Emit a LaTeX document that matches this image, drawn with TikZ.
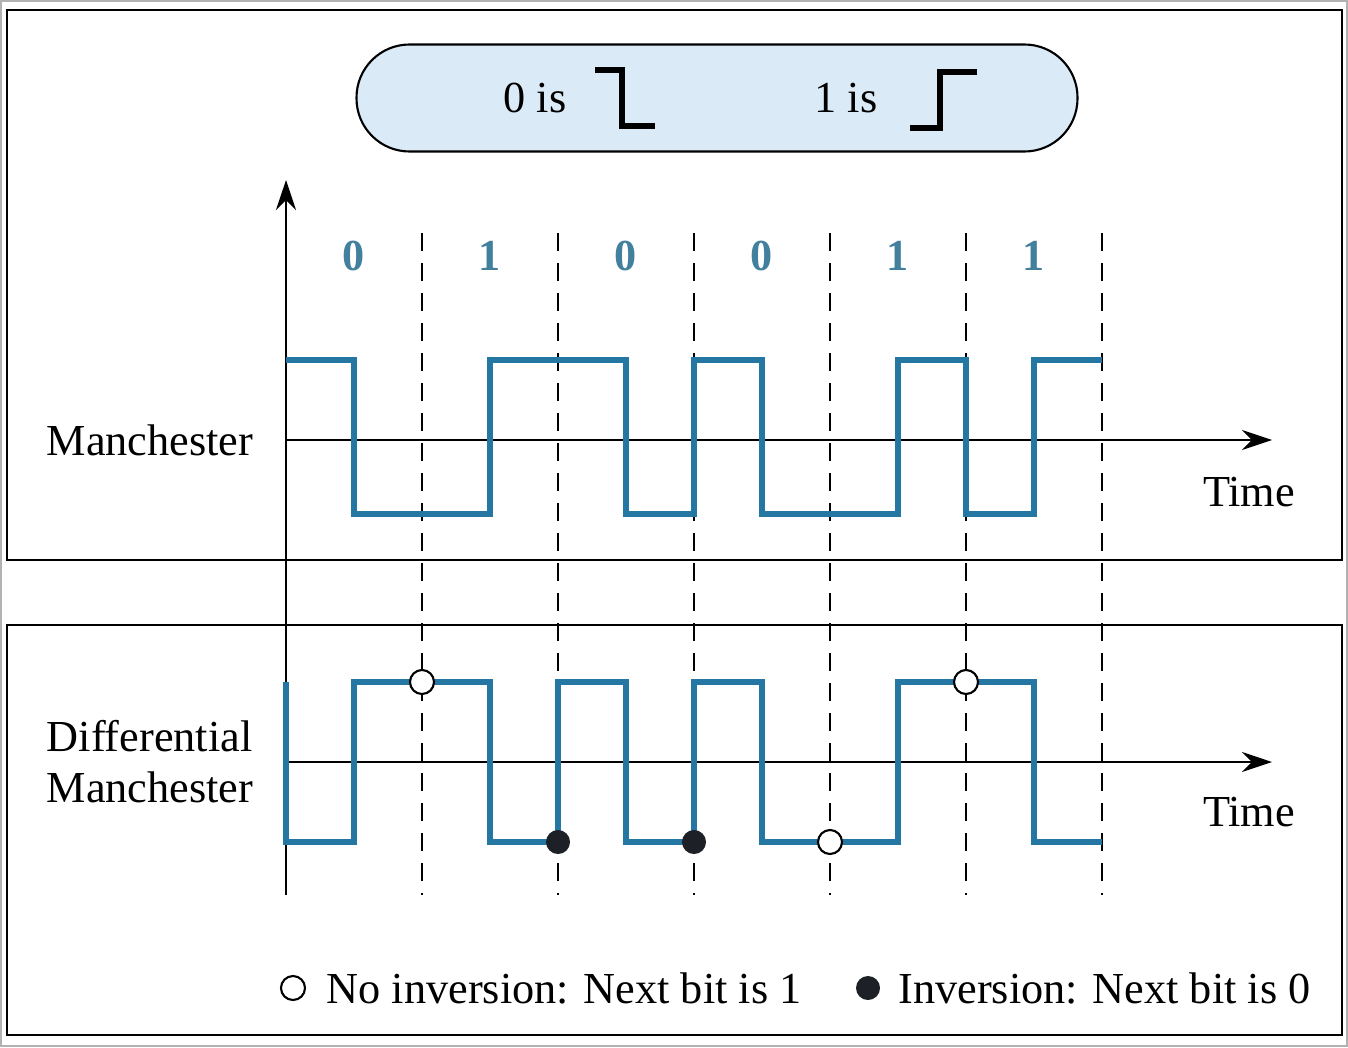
\documentclass[tikz,border=0pt]{standalone}
\usepackage{fontspec}
\setmainfont{Liberation Serif}
\usetikzlibrary{positioning,arrows.meta}
\definecolor{sig}{RGB}{36,118,163}
\definecolor{bitc}{RGB}{66,128,158}
\definecolor{pillc}{RGB}{218,234,246}
\definecolor{dotc}{RGB}{30,32,40}

\begin{document}
\begin{tikzpicture}[x=0.1mm,y=-0.1mm,
lbl/.style={font=\fontsize{12.6}{14.5}\selectfont,inner sep=0pt},
bit/.style={font=\bfseries\fontsize{12.6}{14.5}\selectfont,text=bitc,inner sep=0pt},
panel/.style={draw,line width=0.6pt},
taxis/.style={line width=0.6pt,-{Stealth[length=3mm,width=2mm]}},
bitline/.style={dash pattern=on 1.8mm off 1.2mm,line width=0.8pt},
wave/.style={draw=sig,line width=1.65pt},
noinv/.style={circle,draw,fill=white,line width=0.6pt,minimum size=2.4mm,inner sep=0pt},
inv/.style={circle,fill=dotc,minimum size=2.4mm,inner sep=0pt}]
\useasboundingbox (0,0) rectangle (1348,1047);
\draw[gray!60,line width=0.5pt] (1,1) rectangle (1347,1046);
\draw[panel] (7,10) rectangle (1342,560);
\draw[panel] (7,625) rectangle (1342,1035);
% key
\node[draw,fill=pillc,rounded corners=5.3mm,minimum width=72.1mm,minimum height=10.7mm,line width=0.6pt](key) at (717,98){};
\node[lbl](z) at (535,98){0 is};\node[lbl](u) at (846,98){1 is};
\draw[line width=1.5pt] (595,70) -| (622,126) -- (655,126);
\draw[line width=1.5pt] (910,128) -| (940,72) -- (977,72);
% axes
\coordinate (o) at (286,895);\coordinate (top) at (286,180);
\coordinate (m0) at (286,440);\coordinate (m1) at (1272,440);
\coordinate (d0) at (286,762);\coordinate (d1) at (1272,762);
\draw[taxis](o)--(top);\draw[taxis](m0)--(m1);\draw[taxis](d0)--(d1);
\node[lbl](t1) at (1249,492){Time};\node[lbl](t2) at (1249,812){Time};
\node[lbl](man) at (150,440){Manchester};
\node[lbl,align=left](dman) at (150,762){Differential\\Manchester};
% bit cells
\foreach \k in {1,...,6} \draw[bitline] ({286+136*\k},233) -- ({286+136*\k},895);
\foreach \b [count=\k from 0] in {0,1,0,0,1,1} \node[bit](b\k) at ({354+136*\k},256){\b};
% signals
\draw[wave] (286,360) -| (354,514) -| (490,360) -| (626,514) -| (694,360) -| (762,514) -| (898,360) -| (966,514) -| (1034,360) -- (1102,360);
\draw[wave] (286,682) -- (286,842) -| (354,682) -| (490,842) -| (558,682) -| (626,842) -| (694,682) -| (762,842) -| (898,682) -| (1034,842) -- (1102,842);
\node[noinv](c1) at (422,682){};\node[inv](c2) at (558,842){};\node[inv](c3) at (694,842){};
\node[noinv](c4) at (830,842){};\node[noinv](c5) at (966,682){};
% legend
\node[noinv](k1) at (293,988){};\node[lbl,right=2mm of k1](k1t){No inversion: Next bit is 1};
\node[inv](k2) at (868,988){};\node[lbl,right=1.7mm of k2](k2t){Inversion: Next bit is 0};
\end{tikzpicture}
\end{document}
